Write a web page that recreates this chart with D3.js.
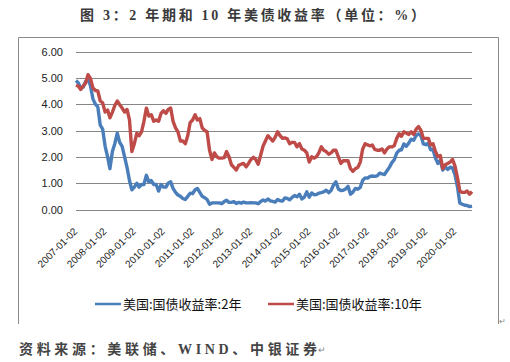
<!DOCTYPE html>
<html>
<head>
<meta charset="utf-8">
<script src="https://cdn.jsdelivr.net/npm/d3@7"></script>
<style>
  html, body { margin: 0; padding: 0; background: #fff; }
  svg { display: block; }
</style>
</head>
<body>
<svg id="chart" width="510" height="362"></svg>
<script>
/* US 2y and 10y Treasury yields, monthly readings, Jan 2007 - Aug 2020 */

const startMonth = '2007-01-02';

const y2 = [
  4.90, 4.80, 4.60, 4.65, 4.85, 4.95, 4.70, 4.20, 4.00, 3.90, 3.20, 3.05, // 2007
  2.40, 2.00, 1.55, 2.20, 2.50, 2.90, 2.55, 2.40, 2.00, 1.60, 1.10, 0.75, // 2008
  0.85, 1.00, 0.85, 0.95, 0.95, 1.30, 1.05, 1.10, 0.95, 0.95, 0.70, 0.95, // 2009
  0.85, 0.85, 1.00, 1.05, 0.80, 0.65, 0.55, 0.50, 0.42, 0.38, 0.50, 0.62, // 2010
  0.60, 0.75, 0.80, 0.65, 0.50, 0.45, 0.38, 0.20, 0.25, 0.25, 0.25, 0.25, // 2011
  0.22, 0.30, 0.35, 0.27, 0.27, 0.30, 0.23, 0.27, 0.24, 0.28, 0.25, 0.25, // 2012
  0.26, 0.25, 0.25, 0.22, 0.30, 0.36, 0.32, 0.40, 0.33, 0.31, 0.28, 0.38, // 2013
  0.33, 0.32, 0.44, 0.42, 0.37, 0.46, 0.53, 0.48, 0.58, 0.40, 0.47, 0.67, // 2014
  0.47, 0.63, 0.56, 0.57, 0.62, 0.64, 0.67, 0.73, 0.64, 0.72, 0.93, 1.05, // 2015
  0.78, 0.72, 0.73, 0.78, 0.88, 0.58, 0.66, 0.80, 0.77, 0.84, 1.11, 1.20, // 2016
  1.19, 1.26, 1.27, 1.26, 1.28, 1.38, 1.35, 1.33, 1.47, 1.60, 1.78, 1.89, // 2017
  2.14, 2.25, 2.27, 2.49, 2.40, 2.52, 2.67, 2.63, 2.81, 2.87, 2.80, 2.49, // 2018
  2.46, 2.52, 2.27, 2.27, 1.95, 1.75, 1.87, 1.50, 1.63, 1.52, 1.61, 1.58, // 2019
  1.31, 0.86, 0.25, 0.20, 0.16, 0.15, 0.11, 0.13                          // 2020
];

const y10 = [
  4.72, 4.68, 4.56, 4.69, 4.80, 5.12, 4.98, 4.62, 4.52, 4.50, 4.12, 4.05, // 2007
  3.70, 3.78, 3.48, 3.70, 3.95, 4.12, 3.98, 3.85, 3.70, 3.80, 3.40, 2.20, // 2008
  2.50, 2.90, 2.80, 2.95, 3.35, 3.85, 3.55, 3.60, 3.35, 3.40, 3.35, 3.65, // 2009
  3.75, 3.65, 3.80, 3.85, 3.35, 3.10, 2.95, 2.60, 2.60, 2.50, 2.80, 3.30, // 2010
  3.40, 3.60, 3.40, 3.45, 3.10, 3.00, 2.95, 2.25, 1.90, 2.15, 2.00, 1.95, // 2011
  1.95, 1.97, 2.20, 2.00, 1.70, 1.60, 1.50, 1.68, 1.72, 1.75, 1.62, 1.75, // 2012
  1.90, 1.98, 1.90, 1.72, 2.05, 2.40, 2.60, 2.80, 2.70, 2.60, 2.75, 2.95, // 2013
  2.80, 2.70, 2.72, 2.68, 2.50, 2.55, 2.55, 2.38, 2.50, 2.30, 2.25, 2.15, // 2014
  1.80, 2.00, 1.95, 2.00, 2.15, 2.38, 2.25, 2.20, 2.10, 2.15, 2.25, 2.25, // 2015
  2.00, 1.75, 1.85, 1.85, 1.85, 1.55, 1.45, 1.55, 1.60, 1.80, 2.30, 2.50, // 2016
  2.45, 2.42, 2.45, 2.28, 2.25, 2.25, 2.30, 2.15, 2.30, 2.38, 2.38, 2.42, // 2017
  2.70, 2.88, 2.78, 2.95, 2.90, 2.85, 2.95, 2.85, 3.05, 3.15, 3.00, 2.70, // 2018
  2.70, 2.70, 2.45, 2.50, 2.20, 2.00, 2.05, 1.55, 1.70, 1.75, 1.80, 1.90, // 2019
  1.65, 1.20, 0.70, 0.65, 0.65, 0.70, 0.58, 0.68                          // 2020
];

const yTicks = [0, 1, 2, 3, 4, 5, 6];
const xTickLabels = [
  '2007-01-02', '2008-01-02', '2009-01-02', '2010-01-02', '2011-01-02',
  '2012-01-02', '2013-01-02', '2014-01-02', '2015-01-02', '2016-01-02',
  '2017-01-02', '2018-01-02', '2019-01-02', '2020-01-02'
];
const seriesNames = ['美国:国债收益率:2年', '美国:国债收益率:10年'];
const seriesColors = ['#4A7EBB', '#BE4B48'];

const titleText = '图 3：2 年期和 10 年美债收益率（单位：%）';
const sourceText = '资料来源：美联储、WIND、中银证券';

const svg = d3.select('#chart');
const parse = d3.timeParse('%Y-%m-%d');
const cjk = '"Noto Sans CJK SC", "Noto Sans", sans-serif';
const serifBold = '"Liberation Serif", "Noto Sans CJK SC", serif';

// one date per monthly reading
const t0 = parse(startMonth);
const dates = y2.map((_, i) => d3.timeMonth.offset(t0, i));

const x = d3.scaleTime().domain(d3.extent(dates)).range([76, 472]);
const y = d3.scaleLinear().domain([0, 6]).range([209.5, 51.5]);

// Title
svg.append('text')
  .attr('x', 80).attr('y', 20)
  .attr('textLength', 345).attr('lengthAdjust', 'spacing')
  .attr('font-family', serifBold).attr('font-weight', 700)
  .attr('font-size', 14).attr('fill', '#3a3a3a')
  .text(titleText);

// Chart frame (no bottom edge, like the pasted Word figure)
svg.append('path')
  .attr('d', 'M18.5,324 L18.5,37.5 L498.5,37.5 L498.5,324')
  .attr('fill', 'none').attr('stroke', '#8a8a8a').attr('stroke-width', 1);

// Gridlines + y labels
const grid = svg.append('g');
yTicks.forEach(v => {
  grid.append('line')
    .attr('x1', 76).attr('x2', 472)
    .attr('y1', Math.round(y(v)) + 0.5).attr('y2', Math.round(y(v)) + 0.5)
    .attr('stroke', '#868686').attr('stroke-width', 1);
  grid.append('text')
    .attr('x', 63).attr('y', y(v) + 4)
    .attr('text-anchor', 'end')
    .attr('font-family', '"Liberation Sans", Arial, sans-serif')
    .attr('font-size', 11).attr('fill', '#222')
    .text(d3.format('.2f')(v));
});

// X labels, rotated
xTickLabels.forEach(s => {
  const px = x(parse(s)) + 2, py = 232;
  svg.append('text')
    .attr('transform', `translate(${px},${py}) rotate(-45)`)
    .attr('text-anchor', 'end')
    .attr('font-family', '"Liberation Sans", Arial, sans-serif')
    .attr('font-size', 10).attr('fill', '#222')
    .text(s);
});

// Lines: 2y first, 10y on top
const line = d3.line().x(d => x(d[0])).y(d => y(d[1]));
[y2, y10].forEach((vals, k) => {
  svg.append('path')
    .datum(dates.map((d, i) => [d, vals[i]]))
    .attr('d', line)
    .attr('fill', 'none')
    .attr('stroke', seriesColors[k])
    .attr('stroke-width', 3.4)
    .attr('stroke-linejoin', 'round');
});

// Legend
const legendX = [95, 268];
seriesNames.forEach((name, k) => {
  const lx = legendX[k];
  svg.append('line')
    .attr('x1', lx).attr('x2', lx + 26).attr('y1', 304).attr('y2', 304)
    .attr('stroke', seriesColors[k]).attr('stroke-width', 2.5);
  svg.append('text')
    .attr('x', lx + 28).attr('y', 308.5)
    .attr('font-family', cjk).attr('font-size', 13).attr('fill', '#111')
    .text(name);
});

// paragraph marks
svg.append('text')
  .attr('x', 499).attr('y', 324)
  .attr('font-family', cjk).attr('font-size', 8).attr('fill', '#888')
  .text('↵');

// Source note
svg.append('text')
  .attr('x', 19).attr('y', 354)
  .attr('textLength', 298).attr('lengthAdjust', 'spacing')
  .attr('font-family', serifBold).attr('font-weight', 700)
  .attr('font-size', 14).attr('fill', '#444')
  .text(sourceText);
svg.append('text')
  .attr('x', 318).attr('y', 353)
  .attr('font-family', cjk).attr('font-size', 9).attr('fill', '#888')
  .text('↵');
</script>
</body>
</html>
